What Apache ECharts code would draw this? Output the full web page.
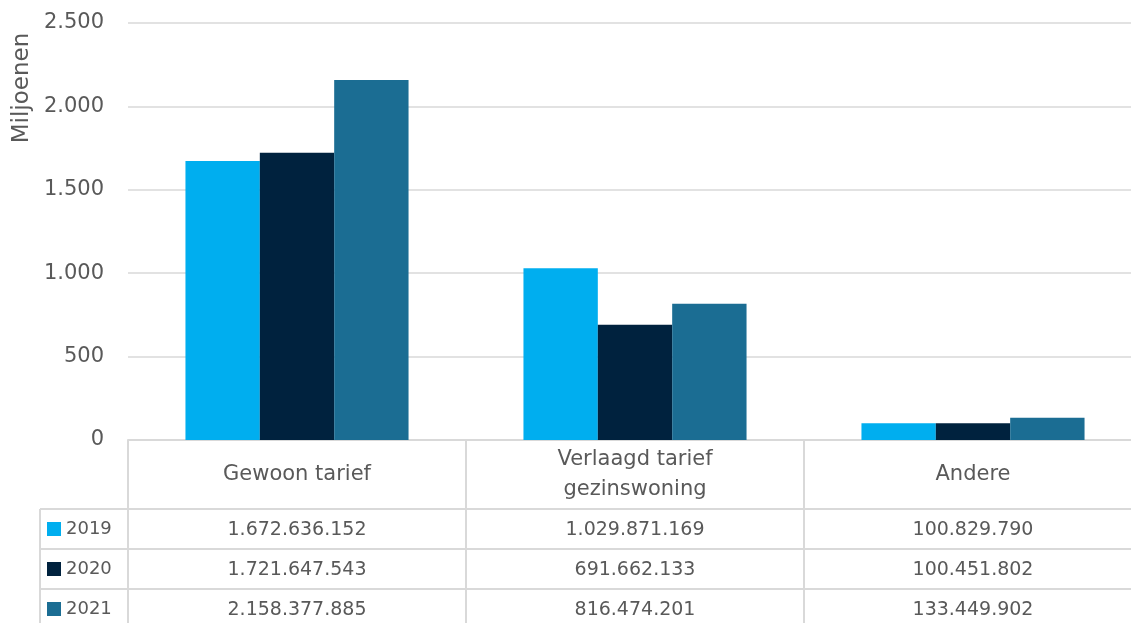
<!DOCTYPE html>
<html>
<head>
<meta charset="utf-8">
<script src="https://cdn.jsdelivr.net/npm/echarts@6/dist/echarts.min.js"></script>
<style>html,body{margin:0;padding:0;background:#fff;overflow:hidden}#c{width:1142px;height:623px}</style>
</head>
<body>
<div id="c"></div>
<script>
const categories = ['Gewoon tarief', 'Verlaagd tarief\ngezinswoning', 'Andere'];
const years = ['2019', '2020', '2021'];
const v2019 = [1672636152, 1029871169, 100829790];
const v2020 = [1721647543, 691662133, 100451802];
const v2021 = [2158377885, 816474201, 133449902];
const yTicks = [0, 500, 1000, 1500, 2000, 2500];
const axisName = 'Miljoenen';

const colors = ['#00AEEF', '#00223E', '#1B6D93'];
const FONT = 'DejaVu Sans';
const TXT = '#595959';
const LINE = '#d9d9d9';
const rows = [v2019, v2020, v2021];
const fmt = n => String(n).replace(/\B(?=(\d{3})+(?!\d))/g, '.');

const chart = echarts.init(document.getElementById('c'), null, {renderer: 'canvas'});
chart.setOption({
  animation: false,
  textStyle: {fontFamily: FONT},
  grid: {left: 128, right: 0, top: 23, bottom: 183, containLabel: false},
  legend: {
    orient: 'vertical', left: 47, top: 520, padding: 0,
    itemWidth: 14, itemHeight: 14, itemGap: 22, icon: 'rect',
    textStyle: {fontSize: 18, color: TXT, fontFamily: FONT, lineHeight: 18},
    data: years
  },
  xAxis: {
    type: 'category', data: categories,
    axisLine: {show: true, lineStyle: {color: LINE, width: 2}},
    axisTick: {show: true, length: 183, lineStyle: {color: LINE, width: 2}},
    axisLabel: {fontSize: 21, color: TXT, fontFamily: FONT, margin: 35, verticalAlign: 'middle', lineHeight: 30}
  },
  yAxis: {
    type: 'value', min: yTicks[0], max: yTicks[yTicks.length - 1], interval: 500,
    axisLine: {show: false}, axisTick: {show: false},
    splitLine: {lineStyle: {color: LINE, width: 1.5}},
    axisLabel: {fontSize: 21, color: TXT, fontFamily: FONT, margin: 24, formatter: v => fmt(v)}
  },
  series: years.map((y, i) => ({
    name: y, type: 'bar', barGap: '0%', barCategoryGap: '34%',
    itemStyle: {color: colors[i]},
    data: rows[i].map(v => v / 1e6)
  }))
});

const graphics = [];
const rowLines = [509, 549, 589];
rowLines.forEach(y => graphics.push({type: 'line', shape: {x1: 40, y1: y, x2: 1142, y2: y}, style: {stroke: LINE, lineWidth: 2}}));
graphics.push({type: 'line', shape: {x1: 40, y1: 509, x2: 40, y2: 623}, style: {stroke: LINE, lineWidth: 2}});
const rowCenters = [530, 570, 610];
rows.forEach((arr, r) => {
  arr.forEach((v, c) => {
    const x = chart.convertToPixel({xAxisIndex: 0}, c);
    graphics.push({type: 'text', x: x, y: rowCenters[r], style: {text: fmt(v), fontSize: 19, fontFamily: FONT, fill: TXT, align: 'center', verticalAlign: 'middle'}});
  });
});
graphics.push({type: 'text', x: 22, y: 88, rotation: Math.PI / 2, style: {text: axisName, fontSize: 23, fontFamily: FONT, fill: TXT, align: 'center', verticalAlign: 'middle'}});
chart.setOption({graphic: graphics});
</script>
</body>
</html>
